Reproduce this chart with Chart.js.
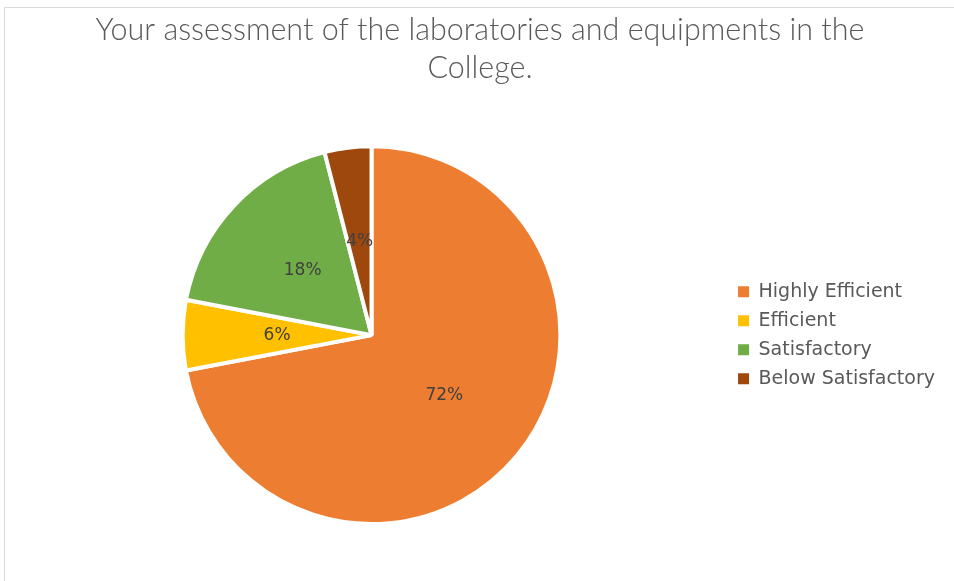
<!DOCTYPE html>
<html>
<head>
<meta charset="utf-8">
<script src="https://cdn.jsdelivr.net/npm/chart.js@4/dist/chart.umd.min.js"></script>
<style>
  html, body { margin: 0; padding: 0; background: #fff; }
  canvas { display: block; }
</style>
</head>
<body>
<canvas id="labChart" width="954" height="581"></canvas>
<script>
const categories = ['Highly Efficient', 'Efficient', 'Satisfactory', 'Below Satisfactory'];
const shares = [72, 6, 18, 4];
const sliceColors = ['#ED7D31', '#FFC000', '#70AD47', '#9E480E'];
const titleLines = ['Your assessment of the laboratories and equipments in the', 'College.'];

const TITLE_FONT = 'Lato, "Open Sans", sans-serif';
const BODY_FONT = '"DejaVu Sans", "Open Sans", sans-serif';

// light frame like the office chart area
const framePlugin = {
  id: 'frame',
  beforeDraw(chart) {
    const ctx = chart.ctx;
    ctx.save();
    ctx.strokeStyle = '#d9d9d9';
    ctx.lineWidth = 1;
    ctx.beginPath();
    ctx.moveTo(4.5, chart.height);
    ctx.lineTo(4.5, 7.5);
    ctx.lineTo(chart.width, 7.5);
    ctx.stroke();
    ctx.restore();
  }
};

// percent labels in the middle of each slice
const sliceLabels = {
  id: 'sliceLabels',
  afterDatasetsDraw(chart) {
    const ctx = chart.ctx;
    const meta = chart.getDatasetMeta(0);
    ctx.save();
    ctx.font = '17px ' + BODY_FONT;
    ctx.fillStyle = '#404040';
    ctx.textAlign = 'center';
    ctx.textBaseline = 'middle';
    meta.data.forEach((arc, i) => {
      const p = arc.getCenterPoint();
      ctx.fillText(shares[i] + '%', p.x, p.y);
    });
    ctx.restore();
  }
};

new Chart(document.getElementById('labChart'), {
  type: 'pie',
  data: {
    labels: categories,
    datasets: [{
      data: shares,
      backgroundColor: sliceColors,
      borderColor: '#ffffff',
      borderWidth: 4
    }]
  },
  options: {
    responsive: false,
    animation: false,
    layout: { padding: { left: 15, right: 9, top: 0, bottom: 55 } },
    plugins: {
      title: {
        display: true,
        text: titleLines,
        color: '#595959',
        font: { family: TITLE_FONT, size: 30.5, weight: 300, lineHeight: 1.25 },
        padding: { top: 11, bottom: 57 }
      },
      legend: {
        position: 'right',
        fullSize: false,
        labels: {
          color: '#595959',
          font: { family: BODY_FONT, size: 19 },
          boxWidth: 11,
          boxHeight: 11,
          padding: 10,
          generateLabels(chart) {
            const base = Chart.overrides.pie.plugins.legend.labels.generateLabels(chart);
            return base.map(item => Object.assign(item, { lineWidth: 0, strokeStyle: item.fillStyle }));
          }
        }
      },
      tooltip: { enabled: false }
    }
  },
  plugins: [framePlugin, sliceLabels]
});
</script>
</body>
</html>
